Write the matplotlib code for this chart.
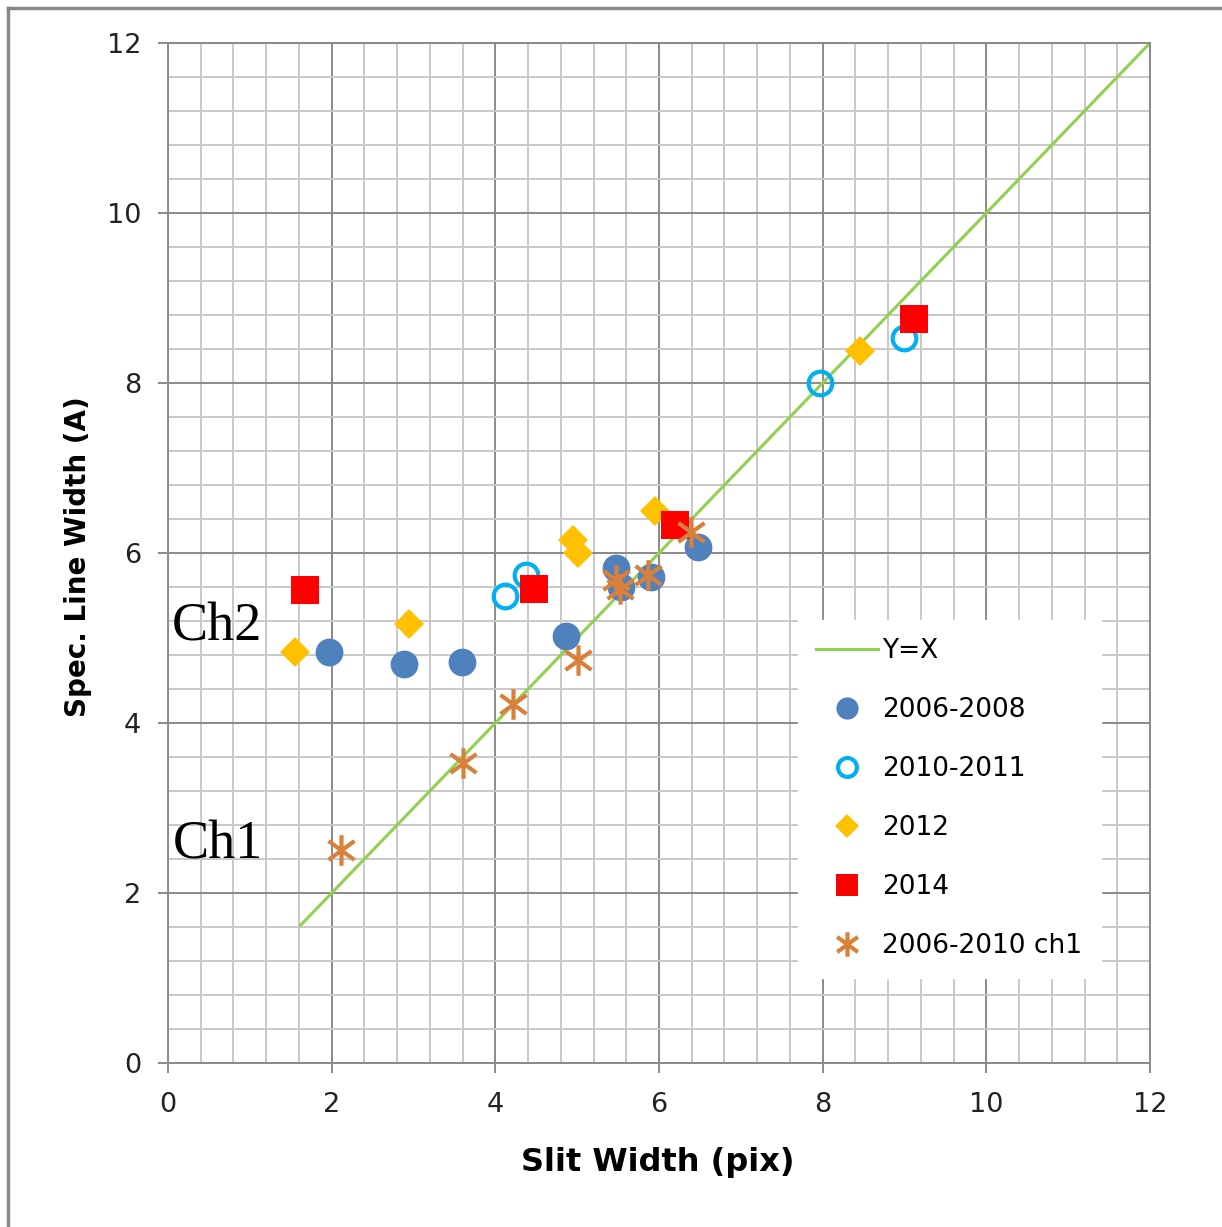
import matplotlib
matplotlib.use("Agg")
import matplotlib.pyplot as plt
from matplotlib.path import Path
from matplotlib.ticker import MultipleLocator

# ---- data ----
line_x = [1.62, 12.0]
line_y = [1.62, 12.0]

blue_x = [1.97, 2.88, 3.59, 4.86, 5.48, 5.54, 5.90, 6.48]
blue_y = [4.83, 4.69, 4.72, 5.02, 5.82, 5.60, 5.72, 6.07]

open_x = [4.12, 4.38, 7.97, 8.99]
open_y = [5.49, 5.74, 8.00, 8.53]

yel_x = [1.55, 2.95, 4.95, 5.01, 5.95, 8.46]
yel_y = [4.84, 5.16, 6.15, 6.00, 6.49, 8.38]

red_x = [1.68, 4.47, 6.20, 9.11]
red_y = [5.57, 5.58, 6.33, 8.75]

ch1_x = [2.11, 3.60, 4.22, 5.01, 5.48, 5.52, 5.87, 6.39]
ch1_y = [2.51, 3.53, 4.22, 4.74, 5.68, 5.58, 5.74, 6.25]

labels = ["Y=X", "2006-2008", "2010-2011", "2012", "2014", "2006-2010 ch1"]
x_ticks = [0, 2, 4, 6, 8, 10, 12]
y_ticks = [0, 2, 4, 6, 8, 10, 12]

# ---- style ----
plt.rcParams['font.family'] = ['DejaVu Sans']
MAJ = '#8a8a8a'
MIN = '#c8c8c8'

fig = plt.figure(figsize=(12.22, 12.27), dpi=100)
ax = fig.add_axes([168/1222, 1 - 1063/1227, 982/1222, 1020/1227])

ax.set_xlim(0, 12)
ax.set_ylim(0, 12)
ax.xaxis.set_minor_locator(MultipleLocator(0.4))
ax.yaxis.set_minor_locator(MultipleLocator(0.4))
ax.set_xticks(x_ticks)
ax.set_yticks(y_ticks)
ax.grid(which='minor', color=MIN, lw=1.4, zorder=0)
ax.grid(which='major', color=MAJ, lw=1.4, zorder=0)
ax.set_axisbelow(True)
for s in ax.spines.values():
    s.set_color(MAJ)
    s.set_linewidth(1.4)
ax.tick_params(which='major', direction='out', length=7.2, width=1.4, color=MAJ,
               labelsize=19.5, labelcolor='#222222', pad=12)
ax.tick_params(axis='x', pad=14)
ax.tick_params(which='minor', length=0)

# asterisk marker: vertical + X
ast = Path([(0, -1), (0, 1), (-0.85, -0.62), (0.85, 0.62), (-0.85, 0.62), (0.85, -0.62)],
           [Path.MOVETO, Path.LINETO, Path.MOVETO, Path.LINETO, Path.MOVETO, Path.LINETO])

ax.plot(line_x, line_y, color='#92D050', lw=2.2, zorder=2, label=labels[0])
ax.plot(blue_x, blue_y, ls='none', marker='o', ms=20, mfc='#4F81BD', mec='#4F81BD', mew=0,
        zorder=3, label=labels[1])
ax.plot(open_x, open_y, ls='none', marker='o', ms=17, mfc='none', mec='#00B0F0', mew=3,
        zorder=4, label=labels[2])
ax.plot(yel_x, yel_y, ls='none', marker='D', ms=15.3, mfc='#FFC000', mec='#FFC000', mew=0,
        zorder=5, label=labels[3])
ax.plot(red_x, red_y, ls='none', marker='s', ms=19.5, mfc='#FF0000', mec='#FF0000', mew=0,
        zorder=6, label=labels[4])
ax.plot(ch1_x, ch1_y, ls='none', marker=ast, ms=22, mfc='none', mec='#D9813A', mew=3,
        zorder=7, label=labels[5])

leg = ax.legend(loc='upper left', bbox_to_anchor=(0.6415, 0.4343), borderaxespad=0,
                fontsize=19, frameon=True, fancybox=False, framealpha=1,
                edgecolor='white', facecolor='white', borderpad=0.7,
                labelspacing=1.25, handlelength=2.35, handletextpad=0.15,
                markerscale=0.8)
leg.set_zorder(10)

ax.text(0.60, 5.13, "Ch2", family='Liberation Serif', fontsize=39, ha='center', va='center',
        zorder=8)
ax.text(0.61, 2.56, "Ch1", family='Liberation Serif', fontsize=39, ha='center', va='center',
        zorder=8)

ax.set_xlabel("Slit Width (pix)", fontsize=23, fontweight='bold', color='black')
ax.set_ylabel("Spec. Line Width (A)", fontsize=20, fontweight='bold', color='black')
ax.xaxis.set_label_coords(0.499, -0.098)
ax.xaxis.label.set_va('center')
ax.yaxis.set_label_coords(-0.0917, 0.496)
ax.yaxis.label.set_va('center')

# outer frame (top and left edges visible)
fig.add_artist(plt.Line2D([8/1222, 8/1222], [0, 1 - 8/1227], transform=fig.transFigure,
                          color='#888888', lw=2.5))
fig.add_artist(plt.Line2D([8/1222, 1], [1 - 8/1227, 1 - 8/1227], transform=fig.transFigure,
                          color='#888888', lw=2.5))

fig.savefig("out.png", dpi=100)
